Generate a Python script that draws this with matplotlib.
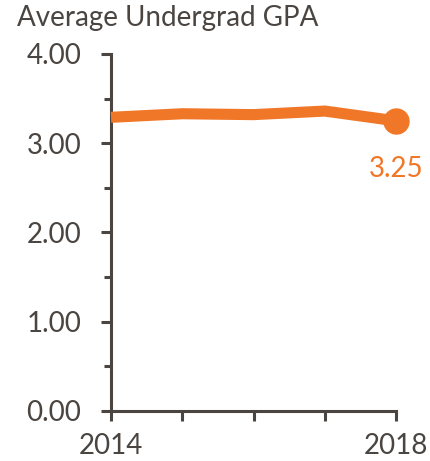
import matplotlib
matplotlib.use("Agg")
import matplotlib.pyplot as plt
from matplotlib.ticker import MultipleLocator, FixedLocator

# data
years = [2014, 2015, 2016, 2017, 2018]
gpa = [3.29, 3.33, 3.32, 3.36, 3.25]
x_labels = {2014: "2014", 2018: "2018"}
title = "Average Undergrad GPA"

orange = "#f07727"
gray = "#4a4541"

plt.rcParams["font.family"] = ["Lato", "DejaVu Sans"]

fig = plt.figure(figsize=(4.31, 4.61), dpi=100)
ax = fig.add_axes([0.2575, 0.1085, 0.6615, 0.7745])

ax.plot(years, gpa, color=orange, linewidth=8, solid_capstyle="butt", clip_on=False, zorder=3)
ax.plot(years[-1], gpa[-1], "o", color=orange, markersize=18, clip_on=False, zorder=4)
ax.annotate("%.2f" % gpa[-1], (years[-1], gpa[-1]), xytext=(0, -34.5), textcoords="offset points",
            ha="center", va="center", color=orange, fontsize=20)

ax.set_xlim(years[0], years[-1])
ax.set_ylim(0, 4)

ax.xaxis.set_major_locator(FixedLocator(years))
ax.set_xticklabels([x_labels.get(y, "") for y in years])
ax.yaxis.set_major_locator(MultipleLocator(1))
ax.yaxis.set_minor_locator(MultipleLocator(0.5))
ax.yaxis.set_major_formatter(lambda v, p: "%.2f" % v)

for s in ["top", "right"]:
    ax.spines[s].set_visible(False)
for s in ["left", "bottom"]:
    ax.spines[s].set_color(gray)
    ax.spines[s].set_linewidth(2.2)

ax.tick_params(axis="both", which="major", length=7.5, width=2.2, color=gray,
               labelcolor=gray, labelsize=20)
ax.tick_params(axis="y", which="major", pad=14)
ax.tick_params(axis="x", which="major", pad=8)
ax.tick_params(axis="y", which="minor", length=5, width=2.2, color=gray)

fig.text(0.04, 0.961, title, color=gray, fontsize=20, ha="left", va="center")

fig.savefig("out.png", dpi=100)
